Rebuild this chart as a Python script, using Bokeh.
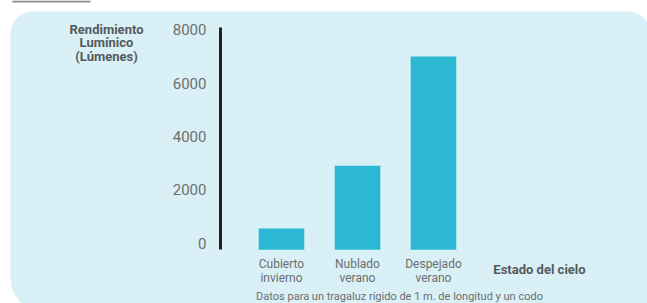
from bokeh.plotting import figure
from bokeh.models import (Range1d, FixedTicker, BoxAnnotation, Label, ColumnDataSource)
from bokeh.embed import file_html
from bokeh.resources import INLINE

# ---- data ----
categories = ["Cubierto\ninvierno", "Nublado\nverano", "Despejado\nverano"]
lumens = [550, 2900, 7000]
y_ticks = [0, 2000, 4000, 6000, 8000]
y_title = "Rendimiento\nLumínico\n(Lúmenes)"
x_title = "Estado del cielo"
footnote = "Datos para un tragaluz rígido de 1 m. de longitud y un codo"

PANEL = "#d8f0f6"
BAR = "#2cb8d3"
TXT = "#6e6e6e"
BOLD = "#555a5c"
FONT = "Roboto"

W, H = 647, 303
x_lo, x_hi = -3.697, 4.816          # 76 px per category
y_lo, y_hi = -2261, 9099            # frame covers whole canvas
axis_lo, axis_hi = -247, 8075       # visible extent of the value axis
y_axis_at = -0.8026

xs = list(range(len(categories)))

p = figure(width=W, height=H,
           x_range=Range1d(x_lo, x_hi), y_range=Range1d(y_lo, y_hi),
           output_backend="svg", toolbar_location=None,
           min_border=0, min_border_left=0, min_border_right=0,
           min_border_top=0, min_border_bottom=0)
p.border_fill_color = "white"
p.background_fill_color = "white"
p.outline_line_color = None
p.xgrid.visible = False
p.ygrid.visible = False

# panel background (screen units, frame == canvas)
panel = BoxAnnotation(left=10, right=650, top=H - 11, bottom=-7,
                      left_units="screen", right_units="screen",
                      top_units="screen", bottom_units="screen",
                      fill_color=PANEL, fill_alpha=1.0, line_color=None,
                      border_radius=(22, 22, 0, 32), level="underlay")
p.add_layout(panel)

rule = BoxAnnotation(left=12, right=90, top=H, bottom=H - 2,
                     left_units="screen", right_units="screen",
                     top_units="screen", bottom_units="screen",
                     fill_color="#8a8a8a", fill_alpha=1.0, line_color=None,
                     level="underlay")
p.add_layout(rule)

src = ColumnDataSource(dict(x=xs, val=lumens))
p.vbar(x="x", top="val", bottom=axis_lo, width=0.6, source=src,
       fill_color=BAR, line_color=None)

# y axis
ya = p.yaxis[0]
ya.fixed_location = y_axis_at
ya.bounds = (axis_lo, axis_hi)
ya.ticker = FixedTicker(ticks=y_ticks)
ya.axis_line_color = "#222222"
ya.axis_line_width = 3
ya.major_tick_line_color = None
ya.minor_tick_line_color = None
ya.major_tick_out = 0
ya.major_tick_in = 0
ya.major_label_standoff = 14
ya.major_label_text_font = FONT
ya.major_label_text_font_size = "15px"
ya.major_label_text_color = TXT

# x axis
xa = p.xaxis[0]
xa.fixed_location = axis_lo
xa.ticker = FixedTicker(ticks=xs)
xa.major_label_overrides = {i: c for i, c in zip(xs, categories)}
xa.axis_line_color = None
xa.major_tick_line_color = None
xa.minor_tick_line_color = None
xa.major_tick_out = 0
xa.major_tick_in = 0
xa.major_label_standoff = 7
xa.major_label_text_font = FONT
xa.major_label_text_font_size = "12px"
xa.major_label_text_color = TXT
xa.major_label_text_line_height = 1.0

p.add_layout(Label(x=106, y=H - 42, x_units="screen", y_units="screen",
                   text=y_title, text_align="center", text_baseline="middle",
                   text_font=FONT, text_font_style="bold",
                   text_font_size="13px", text_color=BOLD, text_line_height=0.9))

p.add_layout(Label(x=539, y=H - 269, x_units="screen", y_units="screen",
                   text=x_title, text_align="center", text_baseline="middle",
                   text_font=FONT, text_font_style="bold",
                   text_font_size="13px", text_color=BOLD))

p.add_layout(Label(x=399, y=7, x_units="screen", y_units="screen",
                   text=footnote, text_align="center", text_baseline="alphabetic",
                   text_font=FONT, text_font_size="11px", text_color=TXT))

open("out.html", "w").write(file_html(p, INLINE))
